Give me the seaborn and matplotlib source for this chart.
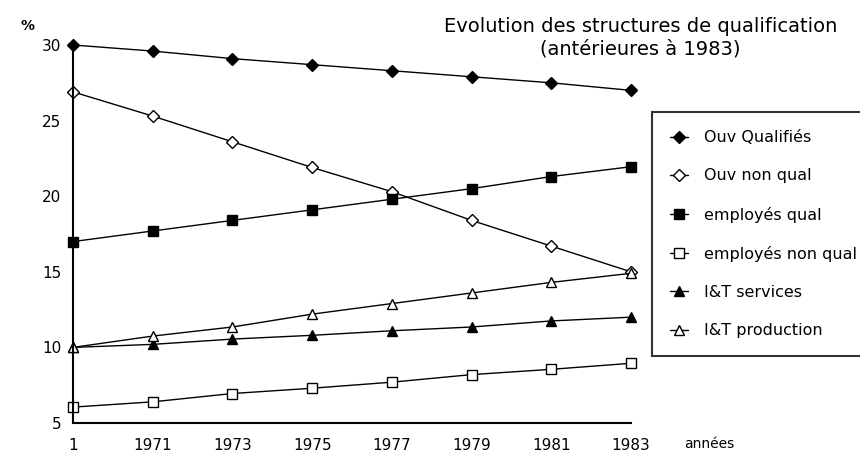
import matplotlib
matplotlib.use("Agg")
import matplotlib.pyplot as plt
import seaborn as sns
import pandas as pd

years = [1969, 1971, 1973, 1975, 1977, 1979, 1981, 1983]
year_labels = ["1", "1971", "1973", "1975", "1977", "1979", "1981", "1983"]

ouv_qualifies = [30.0, 29.6, 29.1, 28.7, 28.3, 27.9, 27.5, 27.0]
ouv_non_qual = [26.9, 25.3, 23.6, 21.9, 20.3, 18.4, 16.7, 15.0]
employes_qual = [17.0, 17.7, 18.4, 19.1, 19.8, 20.5, 21.3, 21.95]
employes_non_qual = [6.05, 6.4, 6.95, 7.3, 7.7, 8.2, 8.55, 8.95]
it_services = [10.0, 10.2, 10.55, 10.8, 11.1, 11.35, 11.75, 12.0]
it_production = [10.0, 10.75, 11.35, 12.2, 12.9, 13.6, 14.3, 14.9]

series = [
    ("Ouv Qualifiés", ouv_qualifies, "D", "black", 6),
    ("Ouv non qual", ouv_non_qual, "D", "white", 6),
    ("employés qual", employes_qual, "s", "black", 7),
    ("employés non qual", employes_non_qual, "s", "white", 7),
    ("I&T services", it_services, "^", "black", 7),
    ("I&T production", it_production, "^", "white", 7),
]

sns.set_style("white")
plt.rcParams['font.family'] = ['DejaVu Sans']
plt.rcParams['text.color'] = 'black'

fig = plt.figure(figsize=(8.6, 4.57), dpi=100)
ax = fig.add_axes([0.0849, 0.0744, 0.6488, 0.8271])

for name, vals, mk, face, ms in series:
    df = pd.DataFrame({"annee": years, "val": vals})
    sns.lineplot(data=df, x="annee", y="val", ax=ax, color="black", linewidth=1,
                 marker=mk, markersize=ms, markerfacecolor=face,
                 markeredgecolor="black", markeredgewidth=1, label=name,
                 clip_on=False)

ax.set_xlim(1969, 1983)
ax.set_ylim(5, 30)
ax.set_xticks(years)
ax.set_xticklabels(year_labels)
ax.set_yticks([5, 10, 15, 20, 25, 30])
ax.set_xlabel("")
ax.set_ylabel("")
for s in ["top", "right"]:
    ax.spines[s].set_visible(False)
for s in ["left", "bottom"]:
    ax.spines[s].set_linewidth(1.5)
    ax.spines[s].set_color("black")
ax.tick_params(axis="both", direction="inout", length=10, width=1.2,
               labelsize=11, colors="black")
ax.tick_params(axis="x", pad=6)

fig.text(0.024, 0.935, "%", fontsize=10, fontweight="bold", color="black")
fig.text(0.795, 0.02, "années", fontsize=10, color="black")
fig.text(0.745, 0.917, "Evolution des structures de qualification\n(antérieures à 1983)",
         ha="center", va="center", fontsize=14, linespacing=1.2, color="black")

leg = ax.legend(loc="upper left", bbox_to_anchor=(0.758, 0.755),
                bbox_transform=fig.transFigure, frameon=True, fancybox=False,
                fontsize=11.5, handlelength=1.1, labelspacing=1.45,
                borderpad=1.15, handletextpad=1.0, borderaxespad=0)
leg.get_frame().set_edgecolor("black")
leg.get_frame().set_linewidth(1.5)
for t in leg.get_texts():
    t.set_color("black")

fig.savefig("out.png", dpi=100)
